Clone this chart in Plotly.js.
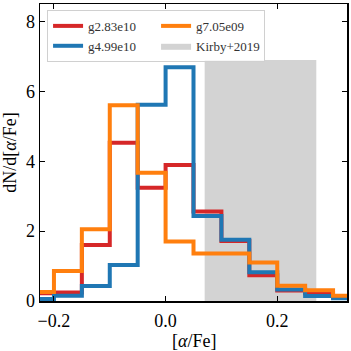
<!DOCTYPE html>
<html>
<head>
<meta charset="utf-8">
<script src="https://cdn.plot.ly/plotly-3.0.1.min.js"></script>
<style>html,body{margin:0;padding:0;background:#fff;}#chart{width:351px;height:351px;}</style>
</head>
<body>
<div id="chart"></div>
<script>
// Bin edges of [alpha/Fe] histograms
const binEdges = [-0.25, -0.2, -0.15, -0.1, -0.05, 0.0, 0.05, 0.1, 0.15, 0.2, 0.25, 0.3, 0.35];
// dN/d[alpha/Fe] per bin
const g283e10 = [0.22, 0.24, 1.6, 4.53, 3.24, 3.89, 2.56, 1.72, 0.74, 0.3, 0.22, 0.1];
const g499e10 = [0.06, 0.15, 0.43, 1.03, 5.62, 6.69, 2.43, 1.75, 0.82, 0.33, 0.14, 0.08];
const g705e09 = [0.26, 0.86, 2.05, 5.6, 3.67, 1.7, 1.36, 1.36, 1.1, 0.44, 0.31, 0.15];
// Kirby+2019 observed range
const kirbyX = [0.07, 0.27];
const kirbyTop = 6.9;
const seriesNames = ["g2.83e10", "g4.99e10", "g7.05e09", "Kirby+2019"];
const xTickVals = [-0.2, 0.0, 0.2];
const xTickText = ["\u22120.2", "0.0", "0.2"];
const yTickVals = [0, 2, 4, 6, 8];
const xTitle = "[<i>α</i>/Fe]";
const yTitle = "dN/d[<i>α</i>/Fe]";

function stepXY(edges, vals) {
  const x = [edges[0]].concat(edges);
  const y = [0].concat(vals).concat([0]);
  return {x, y};
}

const font = "Liberation Serif, Times New Roman, serif";
const colors = ["#d62728", "#1f77b4", "#ff7f0e"];
const all = [g283e10, g499e10, g705e09];
const ranks = [1, 3, 2];

const traces = [{
  x: [kirbyX[0], kirbyX[1], kirbyX[1], kirbyX[0], kirbyX[0]],
  y: [0, 0, kirbyTop, kirbyTop, 0],
  mode: "lines", fill: "toself", fillcolor: "#d3d3d3",
  line: {width: 0, color: "#d3d3d3"},
  name: seriesNames[3], legendrank: 4, hoverinfo: "skip"
}];
all.forEach((vals, i) => {
  const s = stepXY(binEdges, vals);
  traces.push({
    x: s.x, y: s.y, mode: "lines",
    line: {shape: "hv", color: colors[i], width: 4},
    name: seriesNames[i], legendrank: ranks[i]
  });
});

const layout = {
  width: 351, height: 351,
  margin: {l: 40, r: 4, t: 4, b: 50},
  paper_bgcolor: "#fff", plot_bgcolor: "#fff",
  font: {family: font, size: 18, color: "#000"},
  showlegend: true,
  legend: {
    orientation: "h", x: 0.023, y: 0.98, xanchor: "left", yanchor: "top",
    entrywidth: 63, entrywidthmode: "pixels",
    bgcolor: "rgba(255,255,255,0.8)", bordercolor: "#d0d0d0", borderwidth: 1,
    font: {family: font, size: 13, color: "#333"}
  },
  xaxis: {
    range: [-0.225, 0.325], tickvals: xTickVals, ticktext: xTickText,
    ticks: "inside", ticklen: 5, tickwidth: 1, tickcolor: "#000",
    ticklabelstandoff: 3,
    showline: true, linecolor: "#000", linewidth: 1.5, mirror: "ticks",
    showgrid: false, zeroline: false
  },
  yaxis: {
    range: [0, 8.5], tickvals: yTickVals,
    ticks: "inside", ticklen: 5, tickwidth: 1, tickcolor: "#000",
    showline: true, linecolor: "#000", linewidth: 1.5, mirror: "ticks",
    showgrid: false, zeroline: false,
    title: {text: yTitle, font: {family: font, size: 18}, standoff: 8}
  },
  annotations: [{
    text: xTitle, xref: "paper", yref: "paper", x: 0.5, y: 0,
    xanchor: "center", yanchor: "top", yshift: -28, showarrow: false,
    font: {family: font, size: 18, color: "#000"}
  }]
};

Plotly.newPlot("chart", traces, layout, {displayModeBar: false, staticPlot: true});
</script>
</body>
</html>
